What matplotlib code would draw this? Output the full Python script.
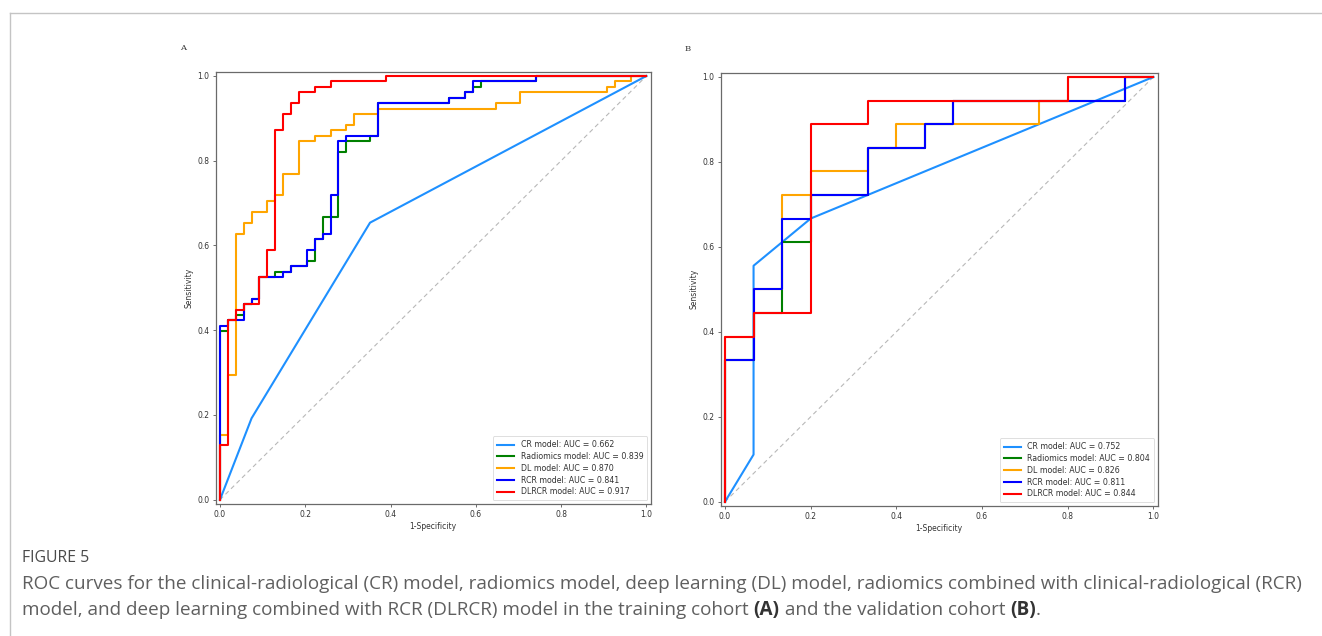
import matplotlib
matplotlib.use("Agg")
import matplotlib.pyplot as plt
from matplotlib.lines import Line2D

plt.rcParams["font.family"] = ["DejaVu Sans"]

# ---------------- data ----------------
model_names = ["CR model", "Radiomics model", "DL model", "RCR model", "DLRCR model"]
model_colors = ["#1E90FF", "green", "orange", "blue", "red"]

# Training cohort (A)
auc_train = [0.662, 0.839, 0.870, 0.841, 0.917]
cr_fpr_a = [0.0, 0.0741, 0.3519, 1.0]
cr_tpr_a = [0.0, 0.1923, 0.6538, 1.0]
rad_fpr_a = [0.0, 0.0, 0.0185, 0.0185, 0.0370, 0.0370, 0.0556, 0.0556, 0.0741, 0.0741, 0.0926, 0.0926,
             0.1296, 0.1296, 0.1667, 0.1667, 0.2037, 0.2037, 0.2222, 0.2222, 0.2407, 0.2407, 0.2778, 0.2778,
             0.2963, 0.2963, 0.3519, 0.3519, 0.3704, 0.3704, 0.5370, 0.5370, 0.5741, 0.5741, 0.5926, 0.5926,
             0.6111, 0.6111, 0.7407, 0.7407, 1.0]
rad_tpr_a = [0.0, 0.3974, 0.3974, 0.4231, 0.4231, 0.4359, 0.4359, 0.4615, 0.4615, 0.4744, 0.4744, 0.5256,
             0.5256, 0.5385, 0.5385, 0.5513, 0.5513, 0.5641, 0.5641, 0.6154, 0.6154, 0.6667, 0.6667, 0.8205,
             0.8205, 0.8462, 0.8462, 0.8590, 0.8590, 0.9359, 0.9359, 0.9487, 0.9487, 0.9615, 0.9615, 0.9744,
             0.9744, 0.9872, 0.9872, 1.0, 1.0]
dl_fpr_a = [0.0, 0.0, 0.0185, 0.0185, 0.0370, 0.0370, 0.0556, 0.0556, 0.0741, 0.0741, 0.1111, 0.1111,
            0.1296, 0.1296, 0.1481, 0.1481, 0.1852, 0.1852, 0.2222, 0.2222, 0.2593, 0.2593, 0.2963, 0.2963,
            0.3148, 0.3148, 0.3704, 0.3704, 0.6481, 0.6481, 0.7037, 0.7037, 0.9074, 0.9074, 0.9259, 0.9259,
            0.9630, 0.9630, 1.0]
dl_tpr_a = [0.0, 0.1538, 0.1538, 0.2949, 0.2949, 0.6282, 0.6282, 0.6538, 0.6538, 0.6795, 0.6795, 0.7051,
            0.7051, 0.7179, 0.7179, 0.7692, 0.7692, 0.8462, 0.8462, 0.8590, 0.8590, 0.8718, 0.8718, 0.8846,
            0.8846, 0.9103, 0.9103, 0.9231, 0.9231, 0.9359, 0.9359, 0.9615, 0.9615, 0.9744, 0.9744, 0.9872,
            0.9872, 1.0, 1.0]
rcr_fpr_a = [0.0, 0.0, 0.0185, 0.0185, 0.0556, 0.0556, 0.0741, 0.0741, 0.0926, 0.0926, 0.1481, 0.1481,
             0.1667, 0.1667, 0.2037, 0.2037, 0.2222, 0.2222, 0.2407, 0.2407, 0.2593, 0.2593, 0.2778, 0.2778,
             0.2963, 0.2963, 0.3704, 0.3704, 0.5370, 0.5370, 0.5741, 0.5741, 0.5926, 0.5926, 0.7407, 0.7407, 1.0]
rcr_tpr_a = [0.0, 0.4103, 0.4103, 0.4231, 0.4231, 0.4615, 0.4615, 0.4744, 0.4744, 0.5256, 0.5256, 0.5385,
             0.5385, 0.5513, 0.5513, 0.5897, 0.5897, 0.6154, 0.6154, 0.6282, 0.6282, 0.7179, 0.7179, 0.8462,
             0.8462, 0.8590, 0.8590, 0.9359, 0.9359, 0.9487, 0.9487, 0.9615, 0.9615, 0.9872, 0.9872, 1.0, 1.0]
dlrcr_fpr_a = [0.0, 0.0, 0.0185, 0.0185, 0.0370, 0.0370, 0.0556, 0.0556, 0.0926, 0.0926, 0.1111, 0.1111,
               0.1296, 0.1296, 0.1481, 0.1481, 0.1667, 0.1667, 0.1852, 0.1852, 0.2222, 0.2222, 0.2593, 0.2593,
               0.3889, 0.3889, 1.0]
dlrcr_tpr_a = [0.0, 0.1282, 0.1282, 0.4231, 0.4231, 0.4487, 0.4487, 0.4615, 0.4615, 0.5256, 0.5256, 0.5897,
               0.5897, 0.8718, 0.8718, 0.9103, 0.9103, 0.9359, 0.9359, 0.9615, 0.9615, 0.9744, 0.9744, 0.9872,
               0.9872, 1.0, 1.0]

# Validation cohort (B)
auc_valid = [0.752, 0.804, 0.826, 0.811, 0.844]
cr_fpr_b = [0.0, 0.0667, 0.0667, 0.2, 0.3333, 1.0]
cr_tpr_b = [0.0, 0.1111, 0.5556, 0.6667, 0.7222, 1.0]
rad_fpr_b = [0.0, 0.0, 0.0667, 0.0667, 0.1333, 0.1333, 0.2, 0.2, 0.3333, 0.3333, 0.4667, 0.4667,
             0.5333, 0.5333, 0.9333, 0.9333, 1.0]
rad_tpr_b = [0.0, 0.3333, 0.3333, 0.4444, 0.4444, 0.6111, 0.6111, 0.7222, 0.7222, 0.8333, 0.8333, 0.8889,
             0.8889, 0.9444, 0.9444, 1.0, 1.0]
dl_fpr_b = [0.0, 0.0, 0.0667, 0.0667, 0.1333, 0.1333, 0.2, 0.2, 0.3333, 0.3333, 0.4, 0.4, 0.7333, 0.7333,
            0.8, 0.8, 1.0]
dl_tpr_b = [0.0, 0.3889, 0.3889, 0.5, 0.5, 0.7222, 0.7222, 0.7778, 0.7778, 0.8333, 0.8333, 0.8889, 0.8889,
            0.9444, 0.9444, 1.0, 1.0]
rcr_fpr_b = [0.0, 0.0, 0.0667, 0.0667, 0.1333, 0.1333, 0.2, 0.2, 0.3333, 0.3333, 0.4667, 0.4667,
             0.5333, 0.5333, 0.9333, 0.9333, 1.0]
rcr_tpr_b = [0.0, 0.3333, 0.3333, 0.5, 0.5, 0.6667, 0.6667, 0.7222, 0.7222, 0.8333, 0.8333, 0.8889,
             0.8889, 0.9444, 0.9444, 1.0, 1.0]
dlrcr_fpr_b = [0.0, 0.0, 0.0667, 0.0667, 0.2, 0.2, 0.3333, 0.3333, 0.8, 0.8, 1.0]
dlrcr_tpr_b = [0.0, 0.3889, 0.3889, 0.4444, 0.4444, 0.8889, 0.8889, 0.9444, 0.9444, 1.0, 1.0]

tick_values = [0.0, 0.2, 0.4, 0.6, 0.8, 1.0]
panel_labels = ["A", "B"]
x_label = "1-Specificity"
y_label = "Sensitivity"
fig_label = "FIGURE 5"
caption_line1 = ("ROC curves for the clinical-radiological (CR) model, radiomics model, deep learning (DL) model, "
                 "radiomics combined with clinical-radiological (RCR)")
caption_line2_parts = [("model, and deep learning combined with RCR (DLRCR) model in the training cohort ", False),
                       ("(A)", True), (" and the validation cohort ", False), ("(B)", True), (".", False)]

# ---------------- figure ----------------
W, H = 1322, 636
fig = plt.figure(figsize=(W / 100, H / 100), dpi=100)
fig.patch.set_facecolor("white")

# outer frame
frame_col = "#c4c4c4"
fig.add_artist(Line2D([9.7 / W, 1.01], [1 - 12.7 / H, 1 - 12.7 / H], transform=fig.transFigure,
                      color=frame_col, lw=1.0))
fig.add_artist(Line2D([9.7 / W, 9.7 / W], [1 - 12.7 / H, -0.01], transform=fig.transFigure,
                      color=frame_col, lw=1.0))

axes_boxes = [
    [215.7 / W, 1 - 504.0 / H, 435.0 / W, 432.3 / H],
    [720.7 / W, 1 - 506.0 / H, 437.0 / W, 433.3 / H],
]
label_pos = [(183 / W, 1 - 48 / H), (688 / W, 1 - 49 / H)]

series = [
    [(cr_fpr_a, cr_tpr_a), (rad_fpr_a, rad_tpr_a), (dl_fpr_a, dl_tpr_a), (rcr_fpr_a, rcr_tpr_a),
     (dlrcr_fpr_a, dlrcr_tpr_a)],
    [(cr_fpr_b, cr_tpr_b), (rad_fpr_b, rad_tpr_b), (dl_fpr_b, dl_tpr_b), (rcr_fpr_b, rcr_tpr_b),
     (dlrcr_fpr_b, dlrcr_tpr_b)],
]
aucs = [auc_train, auc_valid]

fs = 5.5
leg_fs = 5.7
for p in range(2):
    ax = fig.add_axes(axes_boxes[p])
    ax.plot([0, 1], [0, 1], linestyle=(0, (4, 3)), color="#b8b8b8", lw=0.8)
    for i, (fx, ty) in enumerate(series[p]):
        ax.plot(fx, ty, color=model_colors[i], lw=1.5,
                label=f"{model_names[i]}: AUC = {aucs[p][i]:.3f}")
    ax.set_xlim(-0.01, 1.01)
    ax.set_ylim(-0.01, 1.01)
    ax.set_xticks(tick_values)
    ax.set_yticks(tick_values)
    ax.set_xticklabels([f"{v:.1f}" for v in tick_values], family="DejaVu Sans")
    ax.set_yticklabels([f"{v:.1f}" for v in tick_values], family="DejaVu Sans")
    ax.tick_params(labelsize=fs, length=2.5, width=0.6, color="#555555", labelcolor="#333333", pad=2)
    for s in ax.spines.values():
        s.set_color("#6a6a6a")
        s.set_linewidth(0.9)
    ax.set_xlabel(x_label, fontsize=fs, color="#333333", labelpad=2, family="DejaVu Sans")
    ax.set_ylabel(y_label, fontsize=fs, color="#333333", labelpad=3, family="DejaVu Sans")
    leg = ax.legend(loc="lower right", frameon=True, fancybox=True,
                    prop={"family": "DejaVu Sans", "size": leg_fs},
                    handlelength=2.2, borderpad=0.5, labelspacing=0.35, handletextpad=0.8,
                    borderaxespad=0.45)
    leg.get_frame().set_edgecolor("#d0d0d0")
    leg.get_frame().set_linewidth(0.6)
    for t in leg.get_texts():
        t.set_color("#333333")
    fig.text(label_pos[p][0], label_pos[p][1], panel_labels[p], fontsize=6,
             family="DejaVu Serif", color="#333333", ha="center", va="center")

# caption
cap_col = "#5f5f5f"
cap_fs = 13.55
fig.text(22 / W, 1 - 558 / H, fig_label, fontsize=11.4, color="#4a4a4a", family="Open Sans",
         ha="left", va="center")
fig.text(22 / W, 1 - 584 / H, caption_line1, fontsize=cap_fs, color=cap_col, family="Open Sans",
         ha="left", va="center")

fig.canvas.draw()
renderer = fig.canvas.get_renderer()
x_cur = 22 / W
for txt, bold in caption_line2_parts:
    t = fig.text(x_cur, 1 - 610 / H, txt, fontsize=cap_fs, color=("#333333" if bold else cap_col),
                 family="Open Sans", fontweight=("bold" if bold else "normal"), ha="left", va="center")
    bb = t.get_window_extent(renderer=renderer)
    x_cur = bb.x1 / W

fig.savefig("out.png", dpi=100, facecolor="white")
